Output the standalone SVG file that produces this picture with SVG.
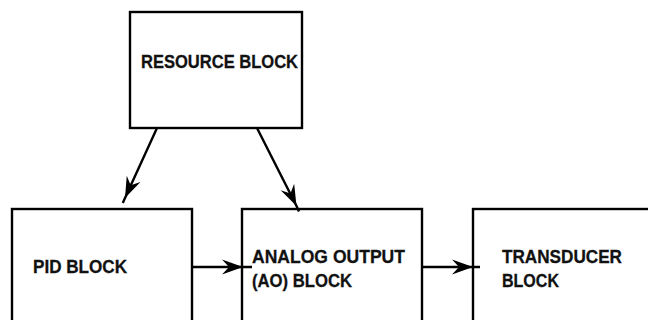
<svg xmlns="http://www.w3.org/2000/svg" width="648" height="320" viewBox="0 0 648 320">
<style>
.box{fill:#fff;stroke:#000;stroke-width:2.4}
.lbl{font-family:"Liberation Sans",Arial,sans-serif;font-weight:bold;font-size:19px;fill:#111;stroke:#111;stroke-width:0.3}
.conn{fill:none;stroke:#000;stroke-width:2.4;marker-mid:url(#ah)}
</style>
<defs>
<marker id="ah" markerUnits="userSpaceOnUse" viewBox="-22 -9 24 18" markerWidth="24" markerHeight="18" refX="0" refY="0" orient="auto">
<path d="M-21,-7.5 L0,0 L-21,7.5 L-14,0 Z" fill="#000"/>
</marker>
</defs>
<g id="resource">
<rect class="box" x="130" y="12" width="172" height="116"/>
<text class="lbl" x="141" y="68" textLength="157" lengthAdjust="spacingAndGlyphs">RESOURCE BLOCK</text>
</g>
<g id="pid">
<rect class="box" x="12" y="209" width="180" height="140"/>
<text class="lbl" x="33" y="273" textLength="94" lengthAdjust="spacingAndGlyphs">PID BLOCK</text>
</g>
<g id="ao">
<rect class="box" x="242" y="209" width="180" height="140"/>
<text class="lbl" x="252" y="263" textLength="153" lengthAdjust="spacingAndGlyphs">ANALOG OUTPUT</text>
<text class="lbl" x="252" y="287" textLength="100" lengthAdjust="spacingAndGlyphs">(AO) BLOCK</text>
</g>
<g id="transducer">
<rect class="box" x="473" y="209" width="200" height="140"/>
<text class="lbl" x="502" y="263" textLength="120" lengthAdjust="spacingAndGlyphs">TRANSDUCER</text>
<text class="lbl" x="502" y="287" textLength="57" lengthAdjust="spacingAndGlyphs">BLOCK</text>
</g>
<g id="connectors">
<path class="conn" d="M157,128 L125,198 L122.8,203"/>
<path class="conn" d="M257,128 L296.5,206 L299,211.5"/>
<path class="conn" d="M192,267 L243,267 L252,267"/>
<path class="conn" d="M422,267 L473,267 L480,267"/>
</g>
</svg>
